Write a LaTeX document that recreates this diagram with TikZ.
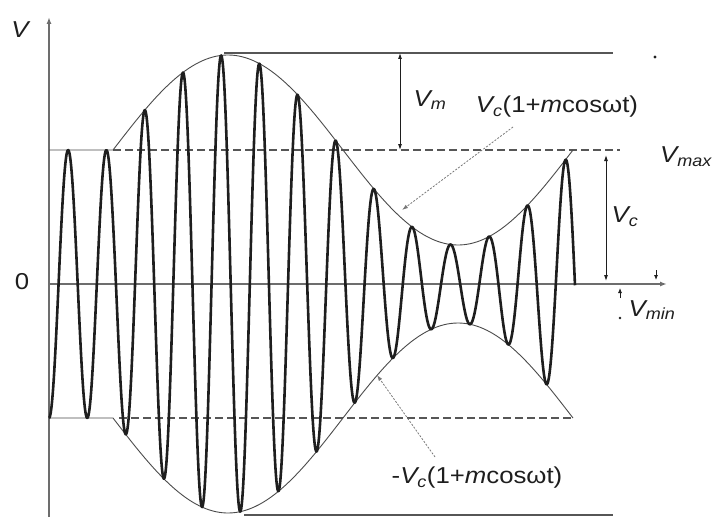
\documentclass[tikz,border=0pt]{standalone}
\usepackage{fontspec}
\setmainfont{Liberation Sans}[FakeStretch=1.12]
\usetikzlibrary{arrows.meta}
\definecolor{ink}{HTML}{1E1E1E}
\begin{document}
\begin{tikzpicture}[x=1pt,y=1pt,
  carrier/.style={line width=2.6pt, draw=ink, line join=round},
  envline/.style={line width=0.9pt, draw=ink!80},
  refline/.style={line width=1.3pt, draw=ink!75},
  dashref/.style={line width=1.3pt, draw=ink!75, dash pattern=on 8pt off 4pt},
  axisline/.style={line width=1.4pt, draw=ink!65},
  dimarrow/.style={line width=0.9pt, draw=ink, {Latex[length=6pt,width=4pt]}-{Latex[length=6pt,width=4pt]}},
  pointer/.style={line width=0.8pt, draw=ink!60, dash pattern=on 2pt off 1.5pt, -{Latex[length=6pt,width=4pt]}},
  lbl/.style={font=\fontsize{23}{26}\selectfont, text=ink, inner sep=0pt},
  speck/.style={fill=ink, draw=none}
]
\useasboundingbox (-49,-233) rectangle (668,284);
% axes
\draw[axisline, -{Latex[length=7pt,width=5pt]}] (0,-233) -- (0,267);
\draw[axisline, -{Latex[length=7pt,width=5pt]}] (0,0) -- (618,0);
% reference lines
\draw[refline] (175,231) -- (564,231);
\draw[refline] (195,-231) -- (564,-231);
\draw[dashref] (64,134) -- (571,134);
\draw[dashref] (70,-134) -- (524,-134);
% envelopes
\draw[envline] (0,134) -- (64,134) -- plot[domain=64:524, samples=140] (\x, {134+95*sin((\x-64)/460*360)});
\draw[envline] (0,-134) -- (64,-134) -- plot[domain=64:524, samples=140] (\x, {-134-95*sin((\x-64)/460*360)});
% carrier
\draw[carrier] plot[domain=0:526, samples=1000] (\x, {-1*((\x<64) ? 134 : (134+95*sin((\x-64)/460*360)))*cos(\x/38.25*360)});
% labels
\node[lbl] (vlab) at (-29,254) {\itshape V};
\node[lbl] (zero) at (-27,2) {0};
\node[lbl] (vm) at (381,184) {\itshape V\textsubscript{m}};
\node[lbl] (envtxt) at (508,177) {{\itshape V\textsubscript{c}}(1+{\itshape m}cosωt)};
\node[lbl, anchor=west] (vmax) at (611,127) {\itshape V\textsubscript{max}};
\node[lbl] (vc) at (576,67) {\itshape V\textsubscript{c}};
\node[lbl] (vmin) at (603,-26) {\itshape V\textsubscript{min}};
\node[lbl] (nenvtxt) at (428,-194) {-{\itshape V\textsubscript{c}}(1+{\itshape m}cosωt)};
% dimension arrows
\coordinate (vmtop) at (351,231);
\coordinate (vmbot) at (351,134);
\draw[dimarrow] (vmtop) -- (vmbot);
\coordinate (vctop) at (557,129);
\coordinate (vcbot) at (557,3);
\draw[dimarrow] (vctop) -- (vcbot);
% pointers
\coordinate (p1s) at (464,157);
\coordinate (p1e) at (353,74);
\draw[pointer] (p1s) -- (p1e);
\coordinate (p2s) at (386,-173);
\coordinate (p2e) at (328,-91);
\draw[pointer] (p2s) -- (p2e);
% small marks
\fill[speck] (606,227) circle (1.6pt);
\coordinate (m1s) at (607,14);
\coordinate (m1e) at (607,4);
\draw[line width=0.8pt, draw=ink, -{Latex[length=5pt,width=4pt]}] (m1s) -- (m1e);
\coordinate (m2s) at (571,-14);
\coordinate (m2e) at (571,-4);
\draw[line width=0.8pt, draw=ink, -{Latex[length=5pt,width=4pt]}] (m2s) -- (m2e);
\fill[speck] (571,-34) circle (1.4pt);
\end{tikzpicture}
\end{document}
